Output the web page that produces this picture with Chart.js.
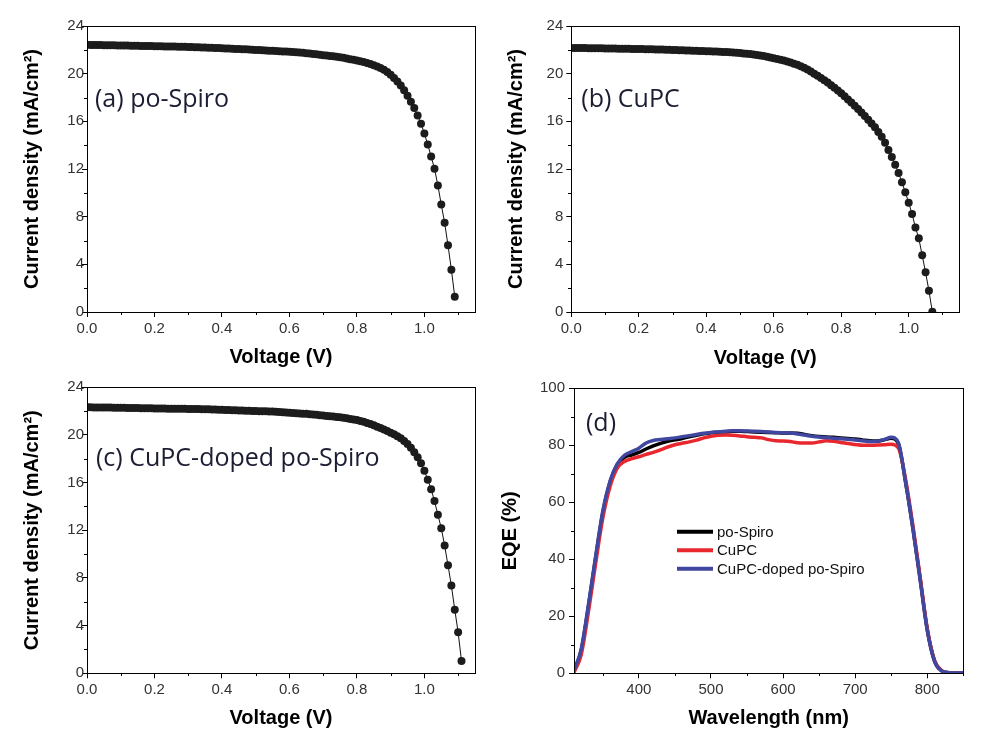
<!DOCTYPE html>
<html>
<head>
<meta charset="utf-8">
<script src="https://cdn.jsdelivr.net/npm/chart.js@4.4.1/dist/chart.umd.min.js"></script>
<style>
  body { margin: 0; background: #fff; }
  #wrap { position: relative; width: 1004px; height: 742px; overflow: hidden; }
  canvas { position: absolute; }
</style>
</head>
<body>
<div id="wrap">
  <canvas id="chartA" width="502" height="372" style="left:0px;top:0px;"></canvas>
  <canvas id="chartB" width="502" height="372" style="left:502px;top:0px;"></canvas>
  <canvas id="chartC" width="502" height="370" style="left:0px;top:372px;"></canvas>
  <canvas id="chartD" width="514" height="370" style="left:490px;top:372px;"></canvas>
</div>
<script>
// voltage steps (V), shared by the three J-V panels
var voltage = [
  0.00, 0.01, 0.02, 0.03, 0.04, 0.05, 0.06, 0.07, 0.08, 0.09,
  0.10, 0.11, 0.12, 0.13, 0.14, 0.15, 0.16, 0.17, 0.18, 0.19,
  0.20, 0.21, 0.22, 0.23, 0.24, 0.25, 0.26, 0.27, 0.28, 0.29,
  0.30, 0.31, 0.32, 0.33, 0.34, 0.35, 0.36, 0.37, 0.38, 0.39,
  0.40, 0.41, 0.42, 0.43, 0.44, 0.45, 0.46, 0.47, 0.48, 0.49,
  0.50, 0.51, 0.52, 0.53, 0.54, 0.55, 0.56, 0.57, 0.58, 0.59,
  0.60, 0.61, 0.62, 0.63, 0.64, 0.65, 0.66, 0.67, 0.68, 0.69,
  0.70, 0.71, 0.72, 0.73, 0.74, 0.75, 0.76, 0.77, 0.78, 0.79,
  0.80, 0.81, 0.82, 0.83, 0.84, 0.85, 0.86, 0.87, 0.88, 0.89,
  0.90, 0.91, 0.92, 0.93, 0.94, 0.95, 0.96, 0.97, 0.98, 0.99,
  1.00, 1.01, 1.02, 1.03, 1.04, 1.05, 1.06, 1.07, 1.08, 1.09,
  1.10, 1.11
];

// current density (mA/cm2) - (a) po-Spiro
var jPoSpiro = [
  22.42, 22.41, 22.41, 22.40, 22.40, 22.39, 22.39, 22.38, 22.38, 22.37,
  22.37, 22.36, 22.36, 22.35, 22.35, 22.34, 22.33, 22.33, 22.32, 22.32,
  22.31, 22.30, 22.30, 22.29, 22.28, 22.28, 22.27, 22.26, 22.25, 22.25,
  22.24, 22.23, 22.22, 22.21, 22.20, 22.19, 22.18, 22.17, 22.16, 22.15,
  22.13, 22.12, 22.11, 22.10, 22.08, 22.07, 22.05, 22.04, 22.02, 22.01,
  21.99, 21.98, 21.96, 21.95, 21.93, 21.92, 21.90, 21.88, 21.86, 21.85,
  21.83, 21.81, 21.79, 21.77, 21.75, 21.72, 21.69, 21.66, 21.62, 21.59,
  21.55, 21.52, 21.49, 21.46, 21.42, 21.38, 21.33, 21.28, 21.22, 21.16,
  21.10, 21.04, 20.97, 20.89, 20.81, 20.71, 20.60, 20.47, 20.32, 20.13,
  19.90, 19.64, 19.34, 19.00, 18.60, 18.15, 17.64, 17.12, 16.50, 15.80,
  14.98, 14.05, 13.05, 12.02, 10.62, 9.02, 7.48, 5.60, 3.55, 1.28
];

// (b) CuPC
var jCuPC = [
  22.16, 22.16, 22.15, 22.15, 22.15, 22.14, 22.14, 22.14, 22.13, 22.13,
  22.12, 22.12, 22.11, 22.11, 22.10, 22.10, 22.09, 22.09, 22.08, 22.07,
  22.07, 22.06, 22.05, 22.05, 22.04, 22.03, 22.03, 22.02, 22.01, 22.00,
  21.99, 21.98, 21.97, 21.96, 21.95, 21.94, 21.93, 21.92, 21.91, 21.90,
  21.89, 21.88, 21.86, 21.85, 21.84, 21.82, 21.81, 21.79, 21.77, 21.75,
  21.73, 21.70, 21.67, 21.64, 21.61, 21.57, 21.53, 21.48, 21.42, 21.36,
  21.30, 21.24, 21.17, 21.10, 21.02, 20.93, 20.84, 20.74, 20.62, 20.49,
  20.35, 20.18, 20.00, 19.82, 19.64, 19.45, 19.25, 19.03, 18.81, 18.58,
  18.35, 18.10, 17.84, 17.58, 17.31, 17.03, 16.74, 16.44, 16.13, 15.82,
  15.50, 15.10, 14.70, 14.20, 13.60, 13.00, 12.36, 11.66, 10.88, 10.04,
  9.17, 8.22, 7.10, 6.18, 4.76, 3.33, 1.79, 0.02
];

// (c) CuPC-doped po-Spiro
var jDoped = [
  22.32, 22.32, 22.31, 22.31, 22.31, 22.30, 22.30, 22.30, 22.29, 22.29,
  22.28, 22.28, 22.27, 22.27, 22.26, 22.26, 22.25, 22.25, 22.24, 22.24,
  22.23, 22.23, 22.22, 22.22, 22.21, 22.21, 22.20, 22.20, 22.19, 22.19,
  22.18, 22.18, 22.17, 22.17, 22.16, 22.15, 22.15, 22.14, 22.13, 22.12,
  22.11, 22.10, 22.09, 22.08, 22.07, 22.06, 22.05, 22.04, 22.03, 22.02,
  22.01, 22.00, 21.99, 21.98, 21.97, 21.96, 21.94, 21.93, 21.91, 21.89,
  21.87, 21.85, 21.83, 21.81, 21.79, 21.77, 21.74, 21.72, 21.69, 21.66,
  21.63, 21.60, 21.57, 21.54, 21.51, 21.48, 21.44, 21.40, 21.35, 21.30,
  21.25, 21.18, 21.10, 21.01, 20.92, 20.82, 20.70, 20.58, 20.46, 20.33,
  20.19, 20.05, 19.90, 19.72, 19.50, 19.25, 18.92, 18.55, 18.12, 17.62,
  17.00, 16.25, 15.45, 14.45, 13.30, 12.18, 10.72, 9.06, 7.36, 5.34,
  3.44, 1.03
];

// EQE spectra
var wavelength = [
  310, 320, 330, 340, 350, 360, 370, 380, 390, 400,
  410, 420, 430, 440, 450, 460, 470, 480, 490, 500,
  510, 520, 530, 540, 550, 560, 570, 580, 590, 600,
  610, 620, 630, 640, 650, 660, 670, 680, 690, 700,
  710, 720, 730, 740, 750, 760, 770, 780, 790, 800,
  810, 820, 830, 840, 850
];
var eqePoSpiro = [
  0.8, 8.0, 23.5, 40.5, 56.5, 67.0, 73.2, 75.8, 76.6, 77.5,
  78.7, 79.8, 80.7, 81.4, 81.9, 82.4, 83.0, 83.5, 84.0, 84.4,
  84.6, 84.7, 84.9, 84.9, 84.8, 84.7, 84.6, 84.5, 84.4, 84.3,
  84.3, 84.2, 83.8, 83.4, 83.1, 82.9, 82.8, 82.6, 82.4, 82.2,
  81.9, 81.6, 81.5, 81.9, 82.5, 80.5, 67.0, 51.0, 33.5, 15.5,
  4.5, 0.9, 0.2, 0.1, 0.2
];
var eqeCuPC = [
  0.3, 6.5, 21.5, 38.5, 54.5, 65.5, 72.0, 74.3, 75.3, 76.0,
  76.8, 77.5, 78.4, 79.4, 80.2, 80.7, 81.2, 81.8, 82.6, 83.2,
  83.5, 83.6, 83.5, 83.3, 83.0, 82.8, 82.6, 82.0, 81.6, 81.5,
  81.3, 80.9, 80.8, 80.8, 81.2, 81.6, 81.4, 81.0, 80.6, 80.3,
  80.0, 80.0, 80.1, 80.2, 80.4, 79.0, 68.0, 52.0, 34.0, 15.5,
  4.5, 0.9, 0.2, 0.1, 0.2
];
var eqeDoped = [
  1.0, 8.5, 24.0, 41.0, 57.0, 67.5, 73.5, 76.5, 77.8, 79.0,
  80.8, 81.7, 82.0, 82.3, 82.6, 83.0, 83.4, 83.8, 84.2, 84.5,
  84.7, 84.9, 85.1, 85.1, 85.0, 84.9, 84.8, 84.7, 84.5, 84.4,
  84.3, 84.0, 83.6, 83.2, 82.9, 82.7, 82.5, 82.3, 82.1, 81.9,
  81.6, 81.3, 81.4, 82.0, 82.8, 80.8, 67.0, 51.0, 33.0, 15.0,
  4.2, 0.8, 0.2, 0.1, 0.2
];
var eqeLabels = ["po-Spiro", "CuPC", "CuPC-doped po-Spiro"];

var tickFont = { family: "'Liberation Sans', Arial, sans-serif", size: 15 };
var titleFont = { family: "'Liberation Sans', Arial, sans-serif", size: 20, weight: "bold" };

function points(xs, ys) {
  return ys.map(function (y, i) { return { x: xs[i], y: y }; });
}

// box frame, minor ticks, panel label and in-plot legend
var framePlugin = {
  id: "frame",
  afterDraw: function (chart, args, opts) {
    var ctx = chart.ctx;
    var a = chart.chartArea;
    ctx.save();
    ctx.strokeStyle = "#000";
    ctx.lineWidth = 1;
    ctx.strokeRect(Math.round(a.left) + 0.5, Math.round(a.top) + 0.5,
      Math.round(a.right - a.left), Math.round(a.bottom - a.top));

    ["x", "y"].forEach(function (id) {
      var sc = chart.scales[id];
      var t = sc.ticks;
      var step = t[1].value - t[0].value;
      for (var v = t[0].value - step / 2; v <= sc.max + 1e-9; v += step) {
        if (v < sc.min - 1e-9) continue;
        var p = Math.round(sc.getPixelForValue(v)) + 0.5;
        ctx.beginPath();
        if (id === "x") {
          ctx.moveTo(p, Math.round(a.bottom));
          ctx.lineTo(p, Math.round(a.bottom) + 3);
        } else {
          ctx.moveTo(Math.round(a.left), p);
          ctx.lineTo(Math.round(a.left) - 3, p);
        }
        ctx.stroke();
      }
    });

    ctx.fillStyle = "#1b1d33";
    ctx.font = "25px 'Open Sans', sans-serif";
    ctx.textBaseline = "alphabetic";
    ctx.fillText(opts.label, a.left + opts.lx, a.top + opts.ly);

    if (opts.legend) {
      chart.data.datasets.forEach(function (ds, i) {
        var y = a.top + 143.5 + i * 18.5;
        ctx.strokeStyle = ds.borderColor;
        ctx.lineWidth = 4;
        ctx.beginPath();
        ctx.moveTo(a.left + 103, y);
        ctx.lineTo(a.left + 139, y);
        ctx.stroke();
        ctx.fillStyle = "#111";
        ctx.font = "15px 'Liberation Sans', Arial, sans-serif";
        ctx.textBaseline = "middle";
        ctx.fillText(ds.label, a.left + 143, y + 1);
      });
    }
    ctx.restore();
  }
};

function makeChart(id, cfg) {
  var canvas = document.getElementById(id);
  return new Chart(canvas.getContext("2d"), {
    type: "line",
    data: { datasets: cfg.datasets },
    options: {
      responsive: false,
      animation: false,
      layout: { padding: { left: 0, top: cfg.top, right: canvas.width - cfg.right, bottom: 0 } },
      plugins: {
        legend: { display: false },
        tooltip: { enabled: false },
        frame: cfg.frame
      },
      scales: {
        x: {
          type: "linear",
          min: cfg.xMin, max: cfg.xMax,
          grid: { display: true, drawOnChartArea: false, tickLength: 5, color: "#000", tickColor: "#000" },
          border: { display: false },
          ticks: {
            stepSize: cfg.xStep, includeBounds: false, color: "#333", font: tickFont, padding: 3,
            maxRotation: 0,
            callback: cfg.xFormat
          },
          title: { display: true, text: cfg.xTitle, color: "#000", font: titleFont, padding: { top: 0, bottom: cfg.xTitlePad } },
          afterFit: function (scale) { scale.height = canvas.height - cfg.bottom; }
        },
        y: {
          type: "linear",
          min: cfg.yMin, max: cfg.yMax,
          grid: { display: true, drawOnChartArea: false, tickLength: 5, color: "#000", tickColor: "#000" },
          border: { display: false },
          ticks: { stepSize: cfg.yStep, includeBounds: false, color: "#333", font: tickFont, padding: cfg.yTickPad },
          title: { display: true, text: cfg.yTitle, color: "#000", font: titleFont, padding: { top: cfg.yTitlePad, bottom: 0 } },
          afterFit: function (scale) { scale.width = cfg.left; }
        }
      }
    },
    plugins: [framePlugin]
  });
}

function jvDataset(ys) {
  return {
    data: points(voltage, ys),
    borderColor: "#111",
    borderWidth: 1,
    backgroundColor: "#1c1c1c",
    pointRadius: 4,
    pointBorderWidth: 0,
    pointBackgroundColor: "#1c1c1c",
    tension: 0
  };
}

var jvBase = {
  xMin: 0, xMax: 1.15, xStep: 0.2,
  yMin: 0, yMax: 24, yStep: 4,
  xTitle: "Voltage (V)",
  yTitle: "Current density (mA/cm²)",
  xFormat: function (v) { return v.toFixed(1); }
};

makeChart("chartA", Object.assign({}, jvBase, {
  datasets: [jvDataset(jPoSpiro)],
  left: 87, right: 475, top: 26, bottom: 312,
  xTitlePad: 3, yTitlePad: 20, yTickPad: -2,
  frame: { label: "(a) po-Spiro", lx: 8, ly: 81 }
}));

makeChart("chartB", Object.assign({}, jvBase, {
  datasets: [jvDataset(jCuPC)],
  left: 69.3, right: 457.3, top: 26, bottom: 312,
  xTitlePad: 2, yTitlePad: 2, yTickPad: 3,
  frame: { label: "(b) CuPC", lx: 10, ly: 81 }
}));

makeChart("chartC", Object.assign({}, jvBase, {
  datasets: [jvDataset(jDoped)],
  left: 87, right: 475, top: 15.3, bottom: 301.3,
  xTitlePad: 12, yTitlePad: 20, yTickPad: -2,
  frame: { label: "(c) CuPC-doped po-Spiro", lx: 9, ly: 79 }
}));

function eqeDataset(label, ys, color, order) {
  return {
    label: label,
    data: points(wavelength, ys),
    borderColor: color,
    borderWidth: 3.5,
    pointRadius: 0,
    cubicInterpolationMode: "monotone",
    order: order
  };
}

makeChart("chartD", {
  datasets: [
    eqeDataset(eqeLabels[0], eqePoSpiro, "#000000", 3),
    eqeDataset(eqeLabels[1], eqeCuPC, "#e8282e", 2),
    eqeDataset(eqeLabels[2], eqeDoped, "#4047a0", 1)
  ],
  xMin: 310, xMax: 850, xStep: 100,
  yMin: 0, yMax: 100, yStep: 20,
  xTitle: "Wavelength (nm)",
  yTitle: "EQE (%)",
  xFormat: function (v) { return String(v); },
  left: 84, right: 473.3, top: 16.3, bottom: 301.3,
  xTitlePad: 12, yTitlePad: 8, yTickPad: 4,
  frame: { label: "(d)", lx: 12, ly: 43, legend: true }
});
</script>
</body>
</html>
